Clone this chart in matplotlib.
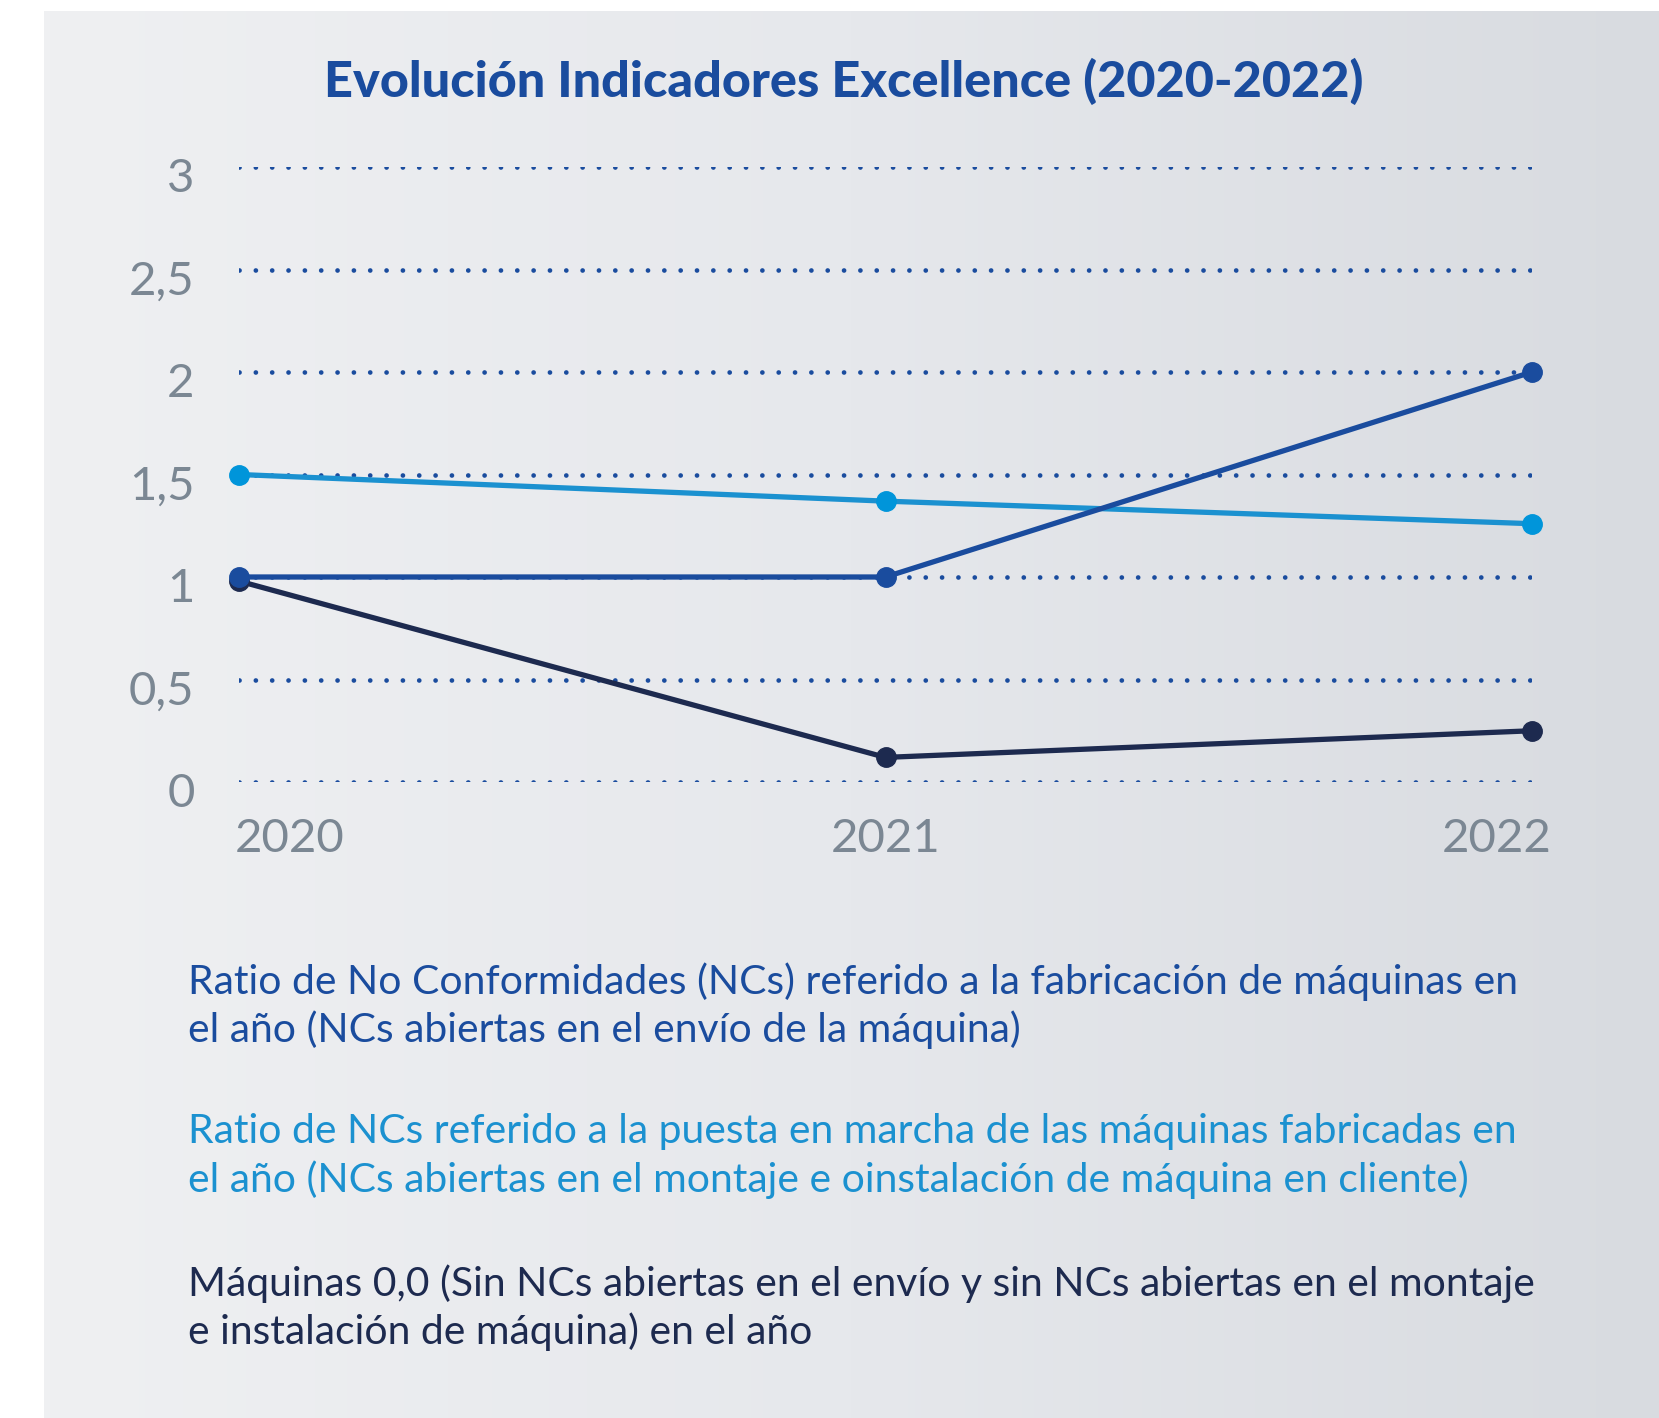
import numpy as np
import matplotlib
matplotlib.use("Agg")
import matplotlib.pyplot as plt
from matplotlib.transforms import ScaledTranslation

plt.rcParams["font.family"] = ["Lato", "DejaVu Sans"]

# data
years = [2020, 2021, 2022]
ratio_fabricacion = [1.0, 1.0, 2.0]
ratio_puesta_marcha = [1.5, 1.37, 1.26]
maquinas_00 = [0.98, 0.12, 0.25]

yticks = [0, 0.5, 1, 1.5, 2, 2.5, 3]
ytick_labels = ["0", "0,5", "1", "1,5", "2", "2,5", "3"]
xtick_labels = ["2020", "2021", "2022"]

title = "Evolución Indicadores Excellence (2020-2022)"
legend_lines = [
    ["Ratio de No Conformidades (NCs) referido a la fabricación de máquinas en",
     "el año (NCs abiertas en el envío de la máquina)"],
    ["Ratio de NCs referido a la puesta en marcha de las máquinas fabricadas en",
     "el año (NCs abiertas en el montaje e oinstalación de máquina en cliente)"],
    ["Máquinas 0,0 (Sin NCs abiertas en el envío y sin NCs abiertas en el montaje",
     "e instalación de máquina) en el año"],
]

c_mid = "#1a4c9e"
c_light = "#1b91d0"
c_light_mk = "#0095da"
c_navy = "#1d2a4f"
c_grey = "#7b8793"

W, H = 1659, 1418
fig = plt.figure(figsize=(W / 100, H / 100), dpi=100)
fig.patch.set_facecolor("white")

# gradient panel
bg = fig.add_axes([44 / W, 0, 1 - 44 / W, (H - 11) / H])
grad = np.linspace(0, 1, 256)[None, :]
cmap = matplotlib.colors.LinearSegmentedColormap.from_list("bg", ["#eff0f2", "#e6e8ec", "#d8dbe0"])
bg.imshow(grad, aspect="auto", cmap=cmap, extent=[0, 1, 0, 1])
bg.set_axis_off()

# main chart
x0, x1 = 239, 1532
y0, y3 = 782, 167
ax = fig.add_axes([x0 / W, (H - y0) / H, (x1 - x0) / W, (y0 - y3) / H])
ax.set_facecolor("none")
ax.set_xlim(2020, 2022)
ax.set_ylim(0, 3)
for s in ax.spines.values():
    s.set_visible(False)

ax.set_yticks(yticks)
ax.set_yticklabels(ytick_labels)
ax.set_xticks(years)
ax.set_xticklabels(xtick_labels)
ax.tick_params(axis="both", length=0, labelsize=34, labelcolor=c_grey)
ax.tick_params(axis="y", pad=32)
ax.tick_params(axis="x", pad=26)
for lab in ax.get_yticklabels():
    lab.set_transform(lab.get_transform() + ScaledTranslation(0, -0.08, fig.dpi_scale_trans))
xl = ax.get_xticklabels()
xl[0].set_ha("left")
xl[0].set_transform(xl[0].get_transform() + ScaledTranslation(-0.04, 0, fig.dpi_scale_trans))
xl[2].set_ha("right")
xl[2].set_transform(xl[2].get_transform() + ScaledTranslation(0.2, 0, fig.dpi_scale_trans))

ax.yaxis.grid(True, color=c_mid, lw=3.4, linestyle=(0, (0.01, 3.45)),
              dash_capstyle="round", zorder=1)
ax.set_axisbelow(True)

ax.plot(years, maquinas_00, color=c_navy, lw=3.8, marker="o", ms=14,
        clip_on=False, zorder=3)
ax.plot(years, ratio_puesta_marcha, color=c_light, lw=3.8, marker="o", ms=14,
        mfc=c_light_mk, mec=c_light_mk, clip_on=False, zorder=4)
ax.plot(years, ratio_fabricacion, color=c_mid, lw=3.8, marker="o", ms=14,
        clip_on=False, zorder=5)

fig.text(844 / W, 1 - 81 / H, title, ha="center", va="center", fontsize=36.3,
         fontweight="black", color=c_mid)

leg_colors = [c_mid, c_light, c_navy]
leg_y = [982, 1132, 1284]
for lines, col, yy in zip(legend_lines, leg_colors, leg_y):
    for k, line in enumerate(lines):
        fig.text(188 / W, 1 - (yy + k * 48) / H, line, ha="left", va="center",
                 fontsize=29.4, color=col)

fig.savefig("out.png", dpi=100, facecolor=fig.get_facecolor())
